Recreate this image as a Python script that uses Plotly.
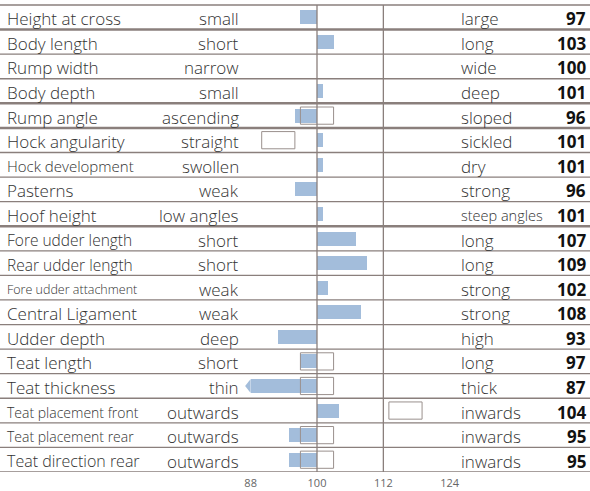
import plotly.graph_objects as go

traits = ["Height at cross", "Body length", "Rump width", "Body depth", "Rump angle",
          "Hock angularity", "Hock development", "Pasterns", "Hoof height",
          "Fore udder length", "Rear udder length", "Fore udder attachment",
          "Central Ligament", "Udder depth", "Teat length", "Teat thickness",
          "Teat placement front", "Teat placement rear", "Teat direction rear"]
low_labels = ["small", "short", "narrow", "small", "ascending", "straight", "swollen",
              "weak", "low angles", "short", "short", "weak", "weak", "deep", "short",
              "thin", "outwards", "outwards", "outwards"]
high_labels = ["large", "long", "wide", "deep", "sloped", "sickled", "dry", "strong",
               "steep angles", "long", "long", "strong", "strong", "high", "long",
               "thick", "inwards", "inwards", "inwards"]
values = [97, 103, 100, 101, 96, 101, 101, 96, 101, 107, 109, 102, 108, 93, 97, 87, 104, 95, 95]
opt_low = [None, None, None, None, 97, 90, None, None, None, None, None, None, None,
           None, 97, 97, 113, 97, 97]
opt_high = [None, None, None, None, 103, 96, None, None, None, None, None, None, None,
            None, 103, 103, 119, 103, 103]
tick_vals = [88, 100, 112, 124]
tick_text = ["88", "100", "112", "124"]
base_value = 100
axis_min = 88
grid_vals = [100, 112]
group_breaks = [0, 3, 4, 8]  # thick line after these rows

# styles
W, H = 590, 491
BAR = "#a3bddb"
LINE = "#8a7f7c"
BOX = "#9a908d"
TXT = "#333333"
FONT = "Open Sans"
default_size = 17
small_sizes = {"Hock development": 15, "Fore udder length": 15.5, "Rear udder length": 15.5,
               "Fore udder attachment": 12.5, "Teat placement front": 14,
               "Teat placement rear": 14, "Teat direction rear": 16, "steep angles": 14.5}
bar_h = 0.57
box_h = 0.70
n = len(traits)
ys = list(range(n))

fig = go.Figure()
fig.add_trace(go.Bar(
    y=ys, x=[max(v, axis_min) - base_value for v in values], base=base_value,
    orientation="h", width=bar_h, marker=dict(color=BAR, line=dict(width=0)),
    hoverinfo="skip", showlegend=False))

shapes = []
for i, v in enumerate(values):
    if v < axis_min:
        shapes.append(dict(type="path", xref="x", yref="y",
                           path=f"M {axis_min},{i - bar_h/2} L {v},{i} L {axis_min},{i + bar_h/2} Z",
                           fillcolor=BAR, line=dict(width=0), layer="above"))
for i, (a, b) in enumerate(zip(opt_low, opt_high)):
    if a is not None:
        shapes.append(dict(type="rect", xref="x", yref="y", x0=a, x1=b,
                           y0=i - box_h/2, y1=i + box_h/2,
                           line=dict(color=BOX, width=1), fillcolor="rgba(0,0,0,0)",
                           layer="above"))
for k in range(n + 1):
    yb = k - 0.5
    thick = (k - 1) in group_breaks
    shapes.append(dict(type="line", xref="paper", yref="y", x0=0, x1=1, y0=yb, y1=yb,
                       line=dict(color=LINE, width=2.5 if thick else 1.3), layer="above"))
for gv in grid_vals:
    shapes.append(dict(type="line", xref="x", yref="y", x0=gv, x1=gv, y0=-0.5, y1=n - 0.5,
                       line=dict(color=LINE, width=1.3), layer="above"))

ann = []
ysh = -1.5
for i in range(n):
    ann.append(dict(x=5 / W, y=i, xref="paper", yref="y", text=traits[i], showarrow=False,
                    xanchor="left", yanchor="middle", yshift=ysh,
                    font=dict(family=FONT, size=small_sizes.get(traits[i], default_size), color=TXT, weight=300)))
    ann.append(dict(x=241 / W, y=i, xref="paper", yref="y", text=low_labels[i], showarrow=False,
                    xanchor="right", yanchor="middle", yshift=ysh,
                    font=dict(family=FONT, size=small_sizes.get(low_labels[i], default_size), color=TXT, weight=300)))
    ann.append(dict(x=459 / W, y=i, xref="paper", yref="y", text=high_labels[i], showarrow=False,
                    xanchor="left", yanchor="middle", yshift=ysh,
                    font=dict(family=FONT, size=small_sizes.get(high_labels[i], default_size), color=TXT, weight=300)))
    ann.append(dict(x=588 / W, y=i, xref="paper", yref="y", text=f"<b>{values[i]}</b>",
                    showarrow=False, xanchor="right", yanchor="middle", yshift=ysh,
                    font=dict(family=FONT, size=17, color="#111111")))

px_per_unit = 5.53
x_at_left = base_value - 317 / px_per_unit
x_at_right = base_value + (W - 317) / px_per_unit
row_px = 24.58
bottom = 19
top_row_center_px = 17.3
y_top = -top_row_center_px / row_px
y_bottom = n - 0.5

fig.update_layout(
    width=W, height=H, margin=dict(l=0, r=0, t=0, b=bottom, pad=0, autoexpand=False),
    paper_bgcolor="white", plot_bgcolor="white",
    xaxis=dict(range=[x_at_left, x_at_right], showgrid=False, zeroline=False,
               showline=False, tickvals=tick_vals, ticktext=tick_text, ticks="",
               ticklabelstandoff=3, automargin=False,
               tickfont=dict(family=FONT, size=11, color="#666666"), fixedrange=True),
    yaxis=dict(range=[y_bottom, y_top], automargin=False,
               showgrid=False, zeroline=False, showline=False, showticklabels=False,
               fixedrange=True),
    bargap=0, shapes=shapes, annotations=ann, showlegend=False,
)
fig.write_html("out.html", config={"displayModeBar": False},
               post_script="document.body.style.margin='0';document.body.style.overflow='hidden';")
